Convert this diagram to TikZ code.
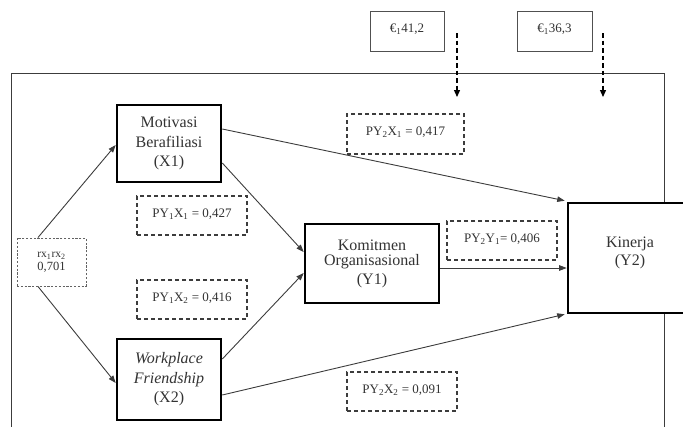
\documentclass[tikz,border=0pt]{standalone}
\usepackage{fontspec}
\setmainfont{Liberation Serif}
\usetikzlibrary{arrows.meta}
\definecolor{ink}{HTML}{333333}
\definecolor{linec}{HTML}{3C3C3C}
\tikzset{
  varbox/.style={draw=black, line width=2.6pt, fill=white, align=center, text=ink,
    font=\fontsize{16}{19.5}\selectfont, inner sep=0pt},
  coefbox/.style={draw=linec, line width=1.1pt, dash pattern=on 4pt off 3pt, fill=white,
    align=center, text=ink, font=\fontsize{13}{15}\selectfont, inner sep=0pt,
    minimum width=110pt, minimum height=39pt},
  corrbox/.style={draw=linec!80, line width=1pt, dash pattern=on 2.2pt off 1.6pt, fill=white,
    align=center, text=ink, font=\fontsize{11.5}{15}\selectfont, inner sep=0pt},
  errbox/.style={draw=linec!90, line width=1pt, fill=white, align=center, text=ink,
    font=\fontsize{13}{15}\selectfont, inner sep=0pt, minimum height=40pt},
  conn/.style={draw=linec, line width=0.9pt, -{Triangle[length=7.5pt,width=5.5pt]}},
  errarrow/.style={draw=black, line width=1.3pt, dash pattern=on 4.5pt off 3pt,
    -{Triangle[length=7pt,width=6pt]}},
  frameline/.style={draw=linec, line width=1pt}
}
\begin{document}
\begin{tikzpicture}[x=1pt,y=-1pt]
\useasboundingbox (0,0) rectangle (683,426);
% outer frame
\draw[frameline] (11,432) -- (11,73) -- (664,73) -- (664,432);

% error boxes
\node[errbox, minimum width=74pt] (eps1) at (407,31) {\raisebox{6pt}{€\textsubscript{1}41,2}};
\node[errbox, minimum width=75pt] (eps2) at (554.5,31) {\raisebox{6pt}{€\textsubscript{1}36,3}};
\coordinate (e1s) at (457,33);
\coordinate (e1e) at (457,97);
\coordinate (e2s) at (603,33);
\coordinate (e2e) at (603,97);
\draw[errarrow] (e1s) -- (e1e);
\draw[errarrow] (e2s) -- (e2e);

% variable boxes
\node[varbox, minimum width=104pt, minimum height=77pt] (mot) at (169,143.5) {Motivasi\\Berafiliasi\\(X1)};
\node[varbox, minimum width=104pt, minimum height=81pt] (wf) at (169,379.5) {\textit{Workplace}\\\textit{Friendship}\\(X2)};
\node[varbox, minimum width=134pt, minimum height=79pt] (kom) at (372,263.5) {\raisebox{3pt}{\shortstack{Komitmen\\[1pt]Organisasional\\[1pt](Y1)}}};
\node[varbox, minimum width=124pt, minimum height=110pt] (kin) at (630,258) {\raisebox{14pt}{\shortstack{Kinerja\\[1pt](Y2)}}};

% correlation box
\node[corrbox, minimum width=69pt, minimum height=48pt] (rx) at (51.5,262) {rx\textsubscript{1}rx\textsubscript{2}\\[-2pt]{\fontsize{12.5}{14}\selectfont 0,701}};

% coefficient boxes
\node[coefbox] (py1x1) at (192,215.5) {\raisebox{5pt}{PY\textsubscript{1}X\textsubscript{1} = 0,427}};
\node[coefbox] (py1x2) at (192,299.5) {\raisebox{5pt}{PY\textsubscript{1}X\textsubscript{2} = 0,416}};
\node[coefbox, minimum width=117pt, minimum height=40pt] (py2x1) at (405.5,134) {\raisebox{5pt}{PY\textsubscript{2}X\textsubscript{1} = 0,417}};
\node[coefbox] (py2y1) at (502,240.5) {\raisebox{5pt}{PY\textsubscript{2}Y\textsubscript{1}= 0,406}};
\node[coefbox] (py2x2) at (402,391.5) {\raisebox{5pt}{PY\textsubscript{2}X\textsubscript{2} = 0,091}};

% connectors
\draw[conn] ([xshift=-13.5pt]rx.north) -- ([yshift=-1.5pt]mot.west);
\draw[conn] ([xshift=-13.5pt]rx.south) -- ([yshift=-3.5pt]wf.west);
\draw[conn] ([yshift=14.5pt]mot.east) -- ([xshift=-2pt,yshift=1pt]kin.north west);
\draw[conn] ([yshift=-19.5pt]mot.east) -- ([yshift=11.5pt]kom.west);
\draw[conn] ([yshift=20.5pt]wf.east) -- ([yshift=-9.5pt]kom.west);
\draw[conn] ([yshift=-15.5pt]wf.east) -- ([xshift=-2pt]kin.south west);
\draw[conn] ([yshift=-4.5pt]kom.east) -- ([yshift=-4.5pt]kom.east -| kin.west);
\end{tikzpicture}
\end{document}
